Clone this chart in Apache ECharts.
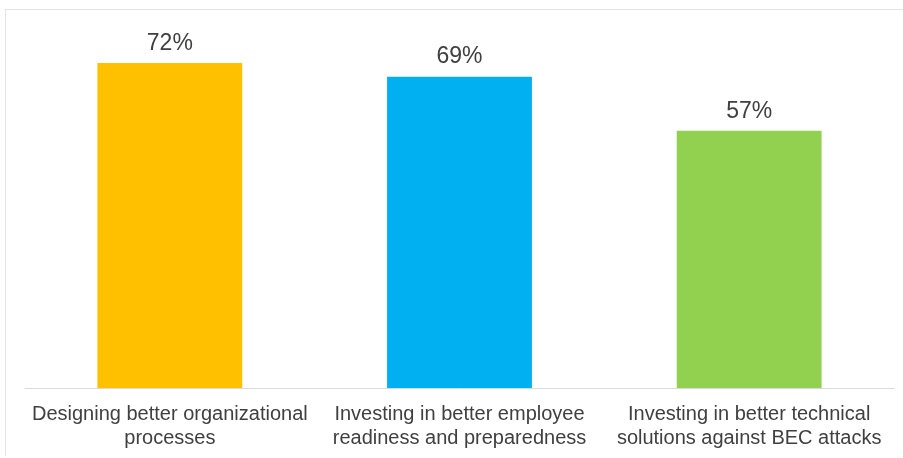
<!DOCTYPE html>
<html><head><meta charset="utf-8">
<script src="https://cdn.jsdelivr.net/npm/echarts@6/dist/echarts.min.js"></script>
<style>html,body{margin:0;padding:0;background:#fff}#c{width:903px;height:458px}</style>
</head><body><div id="c"></div>
<script>
const categories = [
  "Designing better organizational\nprocesses",
  "Investing in better employee\nreadiness and preparedness",
  "Investing in better technical\nsolutions against BEC attacks"
];
const values = [72, 69, 57];
const colors = ["#FFC000", "#00B0F0", "#92D050"];

const chart = echarts.init(document.getElementById('c'));
chart.setOption({
  animation: false,
  backgroundColor: '#fff',
  graphic: [
    { type: 'line', shape: { x1: 5, y1: 9.5, x2: 903, y2: 9.5 }, style: { stroke: '#e3e3e3', lineWidth: 1 } },
    { type: 'line', shape: { x1: 5.5, y1: 9, x2: 5.5, y2: 456 }, style: { stroke: '#e3e3e3', lineWidth: 1 } }
  ],
  grid: { left: 25, right: 9, top: 27, bottom: 70, containLabel: false },
  xAxis: {
    type: 'category',
    data: categories,
    axisTick: { show: false },
    axisLine: { lineStyle: { color: '#d9d9d9', width: 1 } },
    axisLabel: {
      interval: 0,
      margin: 14,
      color: '#404040',
      fontFamily: 'Liberation Sans, Arial, sans-serif',
      fontSize: 20,
      lineHeight: 24
    }
  },
  yAxis: {
    type: 'value', min: 0, max: 80, show: false,
    splitLine: { show: false }
  },
  series: [{
    type: 'bar',
    barWidth: '50%',
    data: values.map((v, i) => ({ value: v, itemStyle: { color: colors[i] } })),
    label: {
      show: true, position: 'top', distance: 8,
      formatter: '{c}%',
      color: '#404040',
      fontFamily: 'Liberation Sans, Arial, sans-serif',
      fontSize: 23
    }
  }]
});
</script></body></html>
